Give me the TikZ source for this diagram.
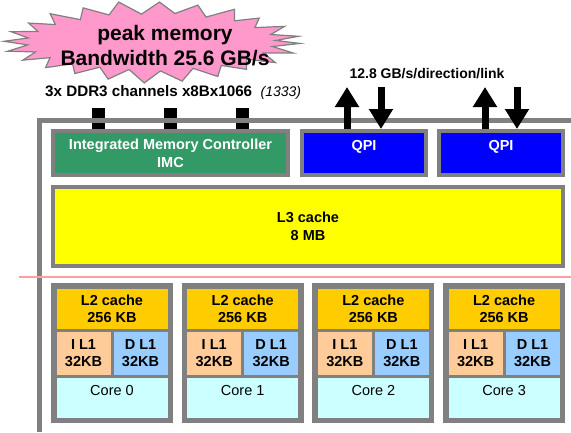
\documentclass[tikz,border=0pt]{standalone}
\usepackage{fontspec}
\setmainfont{Liberation Sans}
\usepackage{tikz}
\usetikzlibrary{arrows.meta, positioning}
\definecolor{boxgray}{HTML}{808080}
\definecolor{imcgreen}{HTML}{339966}
\definecolor{qpiblue}{HTML}{0000FF}
\definecolor{lthreeyellow}{HTML}{FFFF00}
\definecolor{ltwoorange}{HTML}{FFCC00}
\definecolor{ionepeach}{HTML}{FFCC99}
\definecolor{donesky}{HTML}{99CCFF}
\definecolor{corecyan}{HTML}{CCFFFF}
\definecolor{burstpink}{HTML}{FF99CC}
\definecolor{splitred}{HTML}{FFA0A0}
\tikzstyle{box} = [rectangle, draw=boxgray, line width=4pt, inner sep=0pt, font=\fontsize{14.5}{18}\selectfont\bfseries]
\tikzstyle{imcbox} = [box, fill=imcgreen, text=white, align=center, minimum width=235pt, minimum height=44pt]
\tikzstyle{qpibox} = [box, fill=qpiblue, text=white, minimum width=124pt, minimum height=44pt, text depth=14.5pt]
\tikzstyle{coreframe} = [rectangle, draw=boxgray, line width=4pt, inner sep=0pt, minimum width=118pt, minimum height=136pt]
\tikzstyle{cell} = [rectangle, draw=boxgray, line width=1.5pt, inner sep=0pt, align=center, font=\fontsize{14.5}{17}\selectfont\bfseries]
\tikzstyle{ltwo} = [cell, fill=ltwoorange, minimum width=112.5pt, minimum height=42pt]
\tikzstyle{ione} = [cell, fill=ionepeach, minimum width=55.5pt, minimum height=44pt]
\tikzstyle{done} = [cell, fill=donesky, minimum width=55.5pt, minimum height=44pt]
\tikzstyle{corecell} = [cell, fill=corecyan, minimum width=112.5pt, minimum height=41.5pt, text depth=15pt, font=\fontsize{14.5}{17}\selectfont]
\tikzstyle{ddrpin} = [rectangle, fill=black, inner sep=0pt, minimum width=13pt, minimum height=21pt]
\tikzstyle{fatarrow} = [line width=7pt, -{Triangle[length=20pt,width=23pt]}]
\tikzstyle{chipframe} = [draw=boxgray, line width=4.5pt]
\tikzstyle{burst} = [draw=gray, fill=burstpink, line width=1.2pt, line join=miter]
\tikzstyle{note} = [inner sep=0pt, font=\fontsize{14}{17}\selectfont\bfseries]

\begin{document}
\begin{tikzpicture}[x=1pt, y=-1pt, node distance=8.7pt]
        \useasboundingbox[fill=white] (0,0) rectangle (571,432);

        % peak bandwidth burst
        \begin{scope}[shift={(152,42)}]
        \draw [burst] (2:148 and 41) -- (9:122 and 29) -- (16:147 and 40) -- (23:121 and 28)
            -- (31:144 and 40) -- (38:120 and 28) -- (46:136 and 38) -- (54:118 and 29)
            -- (62:140 and 39) -- (70:120 and 28) -- (78:145 and 40) -- (86:121 and 29)
            -- (93:148 and 41) -- (101:120 and 28) -- (108:142 and 39) -- (116:119 and 28)
            -- (124:138 and 38) -- (131:121 and 29) -- (139:141 and 39) -- (146:123 and 28)
            -- (153:145 and 40) -- (160:124 and 29) -- (167:148 and 41) -- (174:125 and 28)
            -- (181:148 and 41) -- (188:125 and 29) -- (195:146 and 40) -- (202:123 and 28)
            -- (209:141 and 39) -- (217:121 and 29) -- (225:144 and 40) -- (233:119 and 28)
            -- (241:142 and 39) -- (249:120 and 29) -- (257:148 and 41) -- (265:121 and 28)
            -- (273:144 and 40) -- (281:120 and 29) -- (289:141 and 39) -- (297:119 and 28)
            -- (305:144 and 40) -- (313:121 and 29) -- (321:138 and 38) -- (329:120 and 28)
            -- (337:144 and 40) -- (345:123 and 29) -- (352:148 and 41) -- (357:124 and 29) -- cycle;
        \end{scope}
        \node (peak) [note, align=center, font=\fontsize{21}{25}\selectfont\bfseries] at (165,46) {peak memory\\Bandwidth 25.6 GB/s};
        \node (ddr) [note, anchor=west, font=\fontsize{15.2}{18}\selectfont\bfseries] at (45,92) {3x DDR3 channels x8Bx1066~~{\fontsize{14}{17}\selectfont\mdseries\itshape (1333)}};
        \node (qpirate) [note] at (427,74) {12.8 GB/s/direction/link};

        % uncore
        \node (imc) [imcbox] at (170.5,153) {Integrated Memory Controller\\IMC};
        \node (qpia) [qpibox] at (364,153) {QPI};
        \node (qpib) [qpibox] at (501,153) {QPI};
        \node (lthree) [box, fill=lthreeyellow, align=center, minimum width=510pt, minimum height=79pt] at (308,226.5) {L3 cache\\8 MB};

        \node (pina) [ddrpin, anchor=south] at (98.5,0 |- imc.north) {};
        \node (pinb) [ddrpin, anchor=south] at (170,0 |- imc.north) {};
        \node (pinc) [ddrpin, anchor=south] at (242.5,0 |- imc.north) {};
        \draw [chipframe] (571,120.5) -- (39.5,120.5) -- (39.5,432);
        \draw [splitred, line width=2pt] (19,277) -- (571,277);

        \coordinate (upa) at (347,87);
        \coordinate (downa) at (381,87);
        \coordinate (upb) at (485,87);
        \coordinate (downb) at (517,87);
        \draw [fatarrow] (upa |- qpia.north) -- (upa);
        \draw [fatarrow] (downa) -- (downa |- qpia.north);
        \draw [fatarrow] (upb |- qpib.north) -- (upb);
        \draw [fatarrow] (downb) -- (downb |- qpib.north);

        % cores
        \node (frame0) [coreframe, anchor=north west] at (51,283) {};
        \node (frame1) [coreframe, right=of frame0] {};
        \node (frame2) [coreframe, right=of frame1] {};
        \node (frame3) [coreframe, right=of frame2] {};

        \node (ltwo0) [ltwo, below=4pt of frame0.north] {L2 cache\\256 KB};
        \node (ione0) [ione, anchor=north west] at (ltwo0.south west) {I L1\\32KB};
        \node (done0) [done, anchor=north east] at (ltwo0.south east) {D L1\\32KB};
        \node (core0) [corecell, anchor=north west] at (ione0.south west) {Core 0};

        \node (ltwo1) [ltwo, below=4pt of frame1.north] {L2 cache\\256 KB};
        \node (ione1) [ione, anchor=north west] at (ltwo1.south west) {I L1\\32KB};
        \node (done1) [done, anchor=north east] at (ltwo1.south east) {D L1\\32KB};
        \node (core1) [corecell, anchor=north west] at (ione1.south west) {Core 1};

        \node (ltwo2) [ltwo, below=4pt of frame2.north] {L2 cache\\256 KB};
        \node (ione2) [ione, anchor=north west] at (ltwo2.south west) {I L1\\32KB};
        \node (done2) [done, anchor=north east] at (ltwo2.south east) {D L1\\32KB};
        \node (core2) [corecell, anchor=north west] at (ione2.south west) {Core 2};

        \node (ltwo3) [ltwo, below=4pt of frame3.north] {L2 cache\\256 KB};
        \node (ione3) [ione, anchor=north west] at (ltwo3.south west) {I L1\\32KB};
        \node (done3) [done, anchor=north east] at (ltwo3.south east) {D L1\\32KB};
        \node (core3) [corecell, anchor=north west] at (ione3.south west) {Core 3};
\end{tikzpicture}
\end{document}
